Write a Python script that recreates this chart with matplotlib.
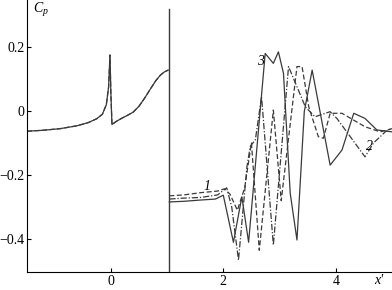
import matplotlib
matplotlib.use("Agg")
import matplotlib.pyplot as plt

plt.rcParams['font.family'] = ['Liberation Serif', 'DejaVu Serif']
plt.rcParams['mathtext.fontset'] = 'custom'
plt.rcParams['mathtext.it'] = 'Liberation Serif:italic'
plt.rcParams['mathtext.rm'] = 'Liberation Serif'

# common part (all three curves coincide upstream of the wall)
x_left = [-1.49, -1.2, -0.9, -0.6, -0.4, -0.25, -0.15, -0.08, -0.04, -0.015, 0.0,
          0.02, 0.1, 0.2, 0.3, 0.4, 0.5, 0.6, 0.7, 0.8, 0.88, 0.95, 1.02]
y_left = [-0.063, -0.06, -0.055, -0.046, -0.036, -0.024, -0.01, 0.02, 0.075, 0.175, 0.06,
          -0.042, -0.032, -0.022, -0.013, -0.003, 0.015, 0.04, 0.068, 0.095, 0.112, 0.122, 0.128]

# wall at x ~ 1.04
wall_x = 1.04
wall_y = [-0.5, 0.318]

# curve 1 (dashed)
x1 = [1.04, 1.3, 1.6, 1.9, 2.02, 2.12, 2.25, 2.38, 2.5, 2.64, 2.89, 3.03, 3.31, 3.40,
      3.52, 3.69, 3.78, 3.90, 4.11, 4.52, 4.79, 5.0]
y1 = [-0.265, -0.262, -0.255, -0.25, -0.243, -0.26, -0.31, -0.24, -0.10, -0.435, 0.003,
      -0.28, 0.139, 0.139, 0.013, -0.08, -0.085, -0.007, -0.007, -0.049, -0.065, -0.055]

# curve 2 (dash-dot)
x2 = [1.04, 1.3, 1.6, 1.9, 2.06, 2.15, 2.27, 2.42, 2.48, 2.57, 2.68, 2.89, 3.16, 3.46,
      3.63, 3.90, 4.02, 4.52, 4.67, 4.88, 5.0]
y2 = [-0.275, -0.272, -0.27, -0.262, -0.24, -0.30, -0.466, -0.174, -0.11, -0.09, 0.045,
      -0.419, 0.139, 0.013, -0.018, -0.002, -0.023, -0.143, -0.10, -0.065, -0.054]

# curve 3 (solid)
x3 = [1.04, 1.3, 1.6, 1.86, 2.0, 2.18, 2.33, 2.45, 2.745, 2.89, 2.98, 3.07, 3.19, 3.31,
      3.44, 3.58, 3.90, 4.11, 4.32, 4.52, 4.73, 5.0]
y3 = [-0.284, -0.282, -0.278, -0.275, -0.263, -0.41, -0.268, -0.41, 0.18, 0.149, 0.185,
      0.118, -0.257, -0.403, -0.002, 0.128, -0.169, -0.122, -0.007, -0.023, -0.059, -0.065]

labels = ['1', '2', '3']
label_pos = [(1.64, -0.235), (4.54, -0.11), (2.6, 0.155)]

fig = plt.figure(figsize=(3.92, 2.90), dpi=100)
ax = fig.add_axes([0.069, 0.062, 0.931, 0.938])

col = '#3a3a3a'
lw = 0.9
ax.plot(x_left, y_left, color=col, lw=lw)
ax.plot(x_left, y_left, color=col, lw=lw, ls=(0, (4, 2)))
ax.plot([wall_x, wall_x], wall_y, color=col, lw=1.0)

ax.plot(x1, y1, color=col, lw=lw, ls=(0, (4, 2)))
ax.plot(x2, y2, color=col, lw=lw, ls=(0, (5, 1.5, 1, 1.5)))
ax.plot(x3, y3, color=col, lw=lw)

for t, (lx, ly) in zip(labels, label_pos):
    ax.text(lx, ly, t, fontsize=10, style='italic', ha='left', va='center')

ax.set_xlim(-1.49, 5.0)
ax.set_ylim(-0.503, 0.347)
ax.set_xticks([0, 2, 4])
ax.set_xticklabels(['0', '2', '4'])
ax.set_yticks([0.2, 0, -0.2, -0.4])
ax.set_yticklabels(['0.2', '0', '\u22120.2', '\u22120.4'])
ax.tick_params(direction='in', length=3, width=0.8, labelsize=10, pad=2)
ax.spines['top'].set_visible(False)
ax.spines['right'].set_visible(False)
for s in ['left', 'bottom']:
    ax.spines[s].set_linewidth(0.8)

fig.text(0.085, 0.955, '$C_p$', fontsize=10)
fig.text(0.955, 0.01, "x'", fontsize=10, style='italic', va='bottom')

fig.savefig('out.png', dpi=100)
